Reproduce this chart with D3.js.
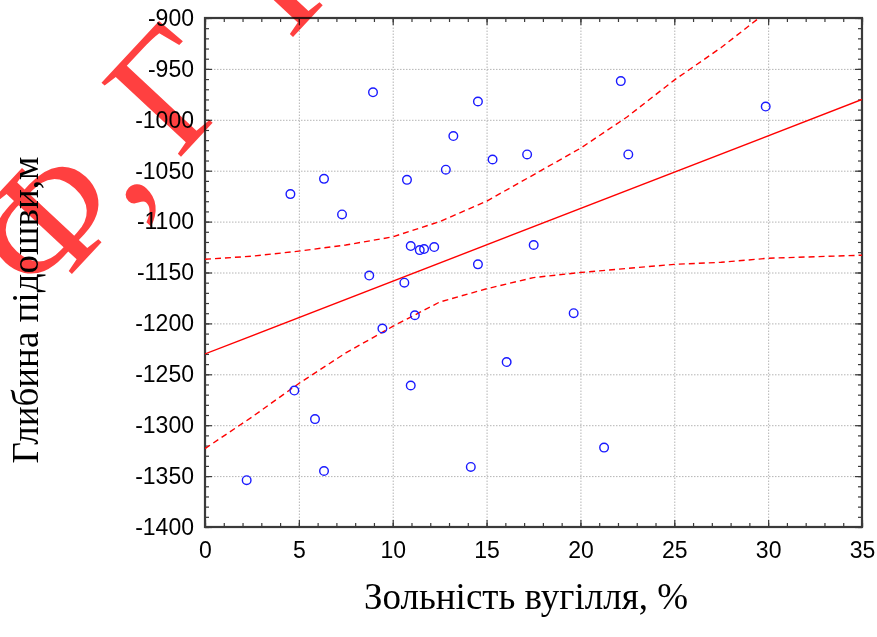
<!DOCTYPE html>
<html>
<head>
<meta charset="utf-8">
<script src="https://cdn.jsdelivr.net/npm/d3@7"></script>
<style>
    body { margin: 0; background: #fff; }
    .tick-label text { font-family: "Liberation Sans", Arial, sans-serif; font-size: 23px; fill: #000; }
    .axis-title { font-family: "Liberation Serif", "Times New Roman", serif; font-size: 37px; fill: #000; }
    .watermark { font-family: "Liberation Serif", "Times New Roman", serif; font-size: 166px; fill: #ff4040; mix-blend-mode: multiply; }
</style>
</head>
<body>
<div id="chart"></div>
<script>
// Points
const ashContent = [2.22, 4.55, 4.76, 5.86, 6.34, 6.34, 7.30, 8.75, 8.95, 9.45, 10.62, 10.76, 10.96, 10.96, 11.18,
    11.44, 11.67, 12.21, 12.83, 13.23, 14.16, 14.54, 14.54, 15.32, 16.07, 17.16, 17.51, 19.64, 21.26, 22.15, 22.55, 29.87];
const soleDepth = [-1354, -1073, -1266, -1294, -1058, -1345, -1093, -1153, -973, -1205, -1160, -1059, -1124, -1261, -1192,
    -1128, -1127, -1125, -1049, -1016, -1341, -982, -1142, -1039, -1238, -1034, -1123, -1190, -1322, -962, -1034, -987];

// Regression line and 95% band, read at the plotted positions
const fitAsh = [0, 35];
const fitDepth = [-1230, -980];
const bandAsh = [0, 2.5, 5, 7.5, 10, 12.5, 15, 17.5, 20, 22.5, 25, 27.5, 30, 35];
const bandUpper = [-1137, -1134, -1129, -1123, -1115, -1100, -1080, -1054, -1028, -997, -961, -929, -893, -827];
const bandLower = [-1323, -1292, -1259, -1229, -1203, -1179, -1166, -1155, -1150, -1146, -1142, -1140, -1136, -1133];

const xTicks = [0, 5, 10, 15, 20, 25, 30, 35];
const yTicks = [-1400, -1350, -1300, -1250, -1200, -1150, -1100, -1050, -1000, -950, -900];

const xTitle = 'Зольність вугілля, %';
const yTitle = 'Глибина підошви,м';
const watermarkText = 'Ф, Г\u00a0 П';

class ScatterChart {
    constructor(_config) {
        this.config = {
            parentElement: _config.parentElement,
            containerWidth: 877,
            containerHeight: 637,
            margin: {top: 18, right: 15, bottom: 110, left: 205}
        }
        this.initVis();
    }

    initVis() {
        let vis = this;

        vis.width = vis.config.containerWidth - vis.config.margin.left - vis.config.margin.right;
        vis.height = vis.config.containerHeight - vis.config.margin.top - vis.config.margin.bottom;

        vis.svg = d3.select(vis.config.parentElement).append('svg')
            .attr('width', vis.config.containerWidth)
            .attr('height', vis.config.containerHeight);

        vis.chart = vis.svg.append('g')
            .attr('transform', `translate(${vis.config.margin.left},${vis.config.margin.top})`);

        vis.xScale = d3.scaleLinear().domain([0, 35]).range([0, vis.width]);
        vis.yScale = d3.scaleLinear().domain([-1400, -900]).range([vis.height, 0]);

        vis.chart.append('defs').append('clipPath')
            .attr('id', 'plot-clip')
            .append('rect')
            .attr('width', vis.width)
            .attr('height', vis.height);

        vis.renderVis();
    }

    renderVis() {
        let vis = this;
        const fmt = d => d.toString();

        // Dotted grid
        vis.chart.append('g')
            .attr('transform', `translate(0,${vis.height})`)
            .call(d3.axisBottom(vis.xScale).tickValues(xTicks).tickSize(-vis.height).tickFormat(''))
            .call(g => g.select('.domain').remove())
            .call(g => g.selectAll('line').attr('stroke', '#b4b4b4').attr('stroke-dasharray', '1.5,1.5'));
        vis.chart.append('g')
            .call(d3.axisLeft(vis.yScale).tickValues(yTicks).tickSize(-vis.width).tickFormat(''))
            .call(g => g.select('.domain').remove())
            .call(g => g.selectAll('line').attr('stroke', '#b4b4b4').attr('stroke-dasharray', '1.5,1.5'));

        // Inward ticks on all four sides
        const tickColor = '#3a3a3a';
        const addTicks = (axis, values, size, transform) => {
            vis.chart.append('g')
                .attr('transform', transform)
                .call(axis.tickValues(values).tickSize(-size).tickFormat(''))
                .call(g => g.select('.domain').remove())
                .call(g => g.selectAll('line').attr('stroke', tickColor).attr('stroke-width', 1.2));
        };
        const xMinor = d3.range(0, 35.5, 1);
        const yMinor = d3.range(-1400, -895, 10);
        addTicks(d3.axisBottom(vis.xScale), xMinor, 4, `translate(0,${vis.height})`);
        addTicks(d3.axisTop(vis.xScale), xMinor, 4, 'translate(0,0)');
        addTicks(d3.axisLeft(vis.yScale), yMinor, 4, 'translate(0,0)');
        addTicks(d3.axisRight(vis.yScale), yMinor, 4, `translate(${vis.width},0)`);
        addTicks(d3.axisBottom(vis.xScale), xTicks, 7, `translate(0,${vis.height})`);
        addTicks(d3.axisTop(vis.xScale), xTicks, 7, 'translate(0,0)');
        addTicks(d3.axisLeft(vis.yScale), yTicks, 7, 'translate(0,0)');
        addTicks(d3.axisRight(vis.yScale), yTicks, 7, `translate(${vis.width},0)`);

        // Frame
        vis.chart.append('rect')
            .attr('width', vis.width)
            .attr('height', vis.height)
            .attr('fill', 'none')
            .attr('stroke', tickColor)
            .attr('stroke-width', 2.2);

        // Tick labels
        vis.chart.append('g')
            .attr('class', 'tick-label')
            .attr('transform', `translate(0,${vis.height})`)
            .call(d3.axisBottom(vis.xScale).tickValues(xTicks).tickSize(0).tickPadding(15).tickFormat(fmt))
            .call(g => g.select('.domain').remove());
        vis.chart.append('g')
            .attr('class', 'tick-label')
            .call(d3.axisLeft(vis.yScale).tickValues(yTicks).tickSize(0).tickPadding(11).tickFormat(fmt))
            .call(g => g.select('.domain').remove());
        vis.chart.selectAll('.tick-label text').attr('font-size', null).attr('font-family', null);

        // Fit line and confidence band
        const plot = vis.chart.append('g').attr('clip-path', 'url(#plot-clip)');
        const line = d3.line()
            .x(d => vis.xScale(d[0]))
            .y(d => vis.yScale(d[1]));

        plot.append('path')
            .attr('d', line(d3.zip(fitAsh, fitDepth)))
            .attr('fill', 'none')
            .attr('stroke', '#ff0000')
            .attr('stroke-width', 1.4);

        [bandUpper, bandLower].forEach(band => {
            plot.append('path')
                .attr('d', line(d3.zip(bandAsh, band)))
                .attr('fill', 'none')
                .attr('stroke', '#ff0000')
                .attr('stroke-width', 1.4)
                .attr('stroke-dasharray', '6,4');
        });

        // Observations
        plot.selectAll('.dot')
            .data(d3.zip(ashContent, soleDepth))
            .join('circle')
            .attr('class', 'dot')
            .attr('cx', d => vis.xScale(d[0]))
            .attr('cy', d => vis.yScale(d[1]))
            .attr('r', 4.3)
            .attr('fill', 'none')
            .attr('stroke', '#1a1aff')
            .attr('stroke-width', 1.4);

        // Axis titles
        vis.svg.append('text')
            .attr('class', 'axis-title')
            .attr('text-anchor', 'middle')
            .attr('x', 526)
            .attr('y', 609)
            .text(xTitle);

        vis.svg.append('text')
            .attr('class', 'axis-title')
            .attr('text-anchor', 'middle')
            .attr('transform', 'translate(38,310) rotate(-90)')
            .text(yTitle);

        // Red stamp over the top-left corner
        vis.svg.append('text')
            .attr('class', 'watermark')
            .attr('transform', 'translate(42,306) rotate(-47)')
            .attr('letter-spacing', -5)
            .text(watermarkText);
    }
}

new ScatterChart({parentElement: '#chart'});
</script>
</body>
</html>
